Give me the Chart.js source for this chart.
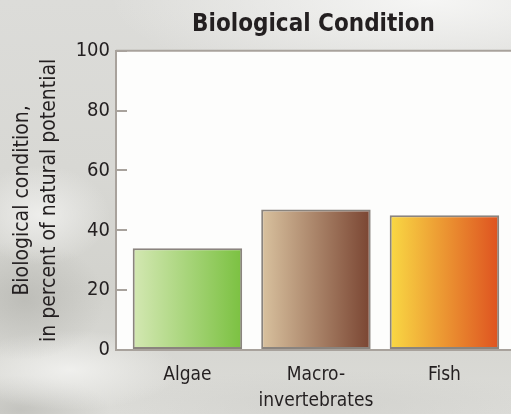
<!DOCTYPE html>
<html>
<head>
<meta charset="utf-8">
<script src="https://cdn.jsdelivr.net/npm/chart.js@4/dist/chart.umd.min.js"></script>
<style>
  html, body { margin: 0; padding: 0; }
  body {
    width: 511px;
    height: 414px;
    overflow: hidden;
    background:
      radial-gradient(ellipse 320px 90px at 430px 0px, rgba(247,247,246,0.95), rgba(247,247,246,0)),
      radial-gradient(ellipse 70px 50px at 40px 215px, rgba(240,240,238,0.9), rgba(240,240,238,0)),
      radial-gradient(ellipse 80px 60px at 25px 300px, rgba(175,175,170,0.6), rgba(175,175,170,0)),
      radial-gradient(ellipse 110px 40px at 70px 370px, rgba(245,245,243,0.8), rgba(245,245,243,0)),
      radial-gradient(ellipse 90px 35px at 20px 410px, rgba(180,180,175,0.6), rgba(180,180,175,0)),
      radial-gradient(ellipse 220px 35px at 330px 405px, rgba(205,205,201,0.6), rgba(205,205,201,0)),
      linear-gradient(180deg, #dcdcd9 0%, #d8d8d4 40%, #d2d2cd 70%, #dcdcd8 100%);
  }
  #wrap { position: relative; width: 511px; height: 414px; }
</style>
</head>
<body>
<div id="wrap"><canvas id="chart"></canvas></div>
<script>
  const categories = ['Algae', ['Macro-', 'invertebrates'], 'Fish'];
  const conditionValues = [34, 47, 45];
  const yTickValues = [0, 20, 40, 60, 80, 100];

  // left -> right colour ramps for each bar
  const barRamps = [
    ['#d4e8b3', '#7bc141'],
    ['#d9c29f', '#7a4532'],
    ['#f9d944', '#de5220'],
  ];

  const BAR_PCT = 0.852;
  const textFont = "'DejaVu Sans Condensed', 'DejaVu Sans', sans-serif";
  const ink = '#231f20';
  const frameGray = '#a8a29c';

  const barFill = (ctx) => {
    const chart = ctx.chart;
    const x = chart.scales.x;
    if (!chart.chartArea || !x) return barRamps[ctx.dataIndex][1];
    const center = x.getPixelForValue(ctx.dataIndex);
    const half = (x.getPixelForValue(1) - x.getPixelForValue(0)) * BAR_PCT / 2;
    const g = chart.ctx.createLinearGradient(center - half, 0, center + half, 0);
    g.addColorStop(0, barRamps[ctx.dataIndex][0]);
    g.addColorStop(1, barRamps[ctx.dataIndex][1]);
    return g;
  };

  // white plot panel with a rule along its top edge
  const plotFrame = {
    id: 'plotFrame',
    beforeDraw(chart) {
      const { ctx, chartArea: a } = chart;
      ctx.save();
      ctx.fillStyle = '#fdfdfc';
      ctx.fillRect(a.left, a.top, a.right - a.left, a.bottom - a.top);
      ctx.strokeStyle = frameGray;
      ctx.lineWidth = 2;
      ctx.beginPath();
      ctx.moveTo(a.left, a.top);
      ctx.lineTo(a.right, a.top);
      ctx.stroke();
      ctx.restore();
    }
  };

  new Chart(document.getElementById('chart'), {
    type: 'bar',
    data: {
      datasets: [{
        data: conditionValues.map((v, i) => ({ x: i, y: v })),
        backgroundColor: barFill,
        borderColor: '#8a847e',
        borderWidth: 2,
        borderSkipped: false,
        barPercentage: BAR_PCT,
        categoryPercentage: 1
      }]
    },
    options: {
      responsive: true,
      maintainAspectRatio: false,
      animation: false,
      events: [],
      layout: { padding: 0 },
      plugins: {
        legend: { display: false },
        tooltip: { enabled: false },
        title: {
          display: true,
          text: 'Biological Condition',
          fullSize: false,
          color: ink,
          font: { family: "'DejaVu Sans Condensed', sans-serif", size: 24, weight: 'bold', lineHeight: 1.2 },
          padding: { top: 10, bottom: 12 }
        }
      },
      scales: {
        x: {
          type: 'linear',
          offset: false,
          min: -0.556,
          max: 2.518,
          grid: { display: false, drawTicks: false, offset: false },
          border: { display: true, color: frameGray, width: 2 },
          afterFit: (s) => { s.height = 64; },
          ticks: {
            stepSize: 1,
            includeBounds: false,
            autoSkip: false,
            maxRotation: 0,
            padding: 12,
            color: ink,
            font: { family: textFont, size: 19, lineHeight: 1.37 },
            callback: (v) => categories[v]
          }
        },
        y: {
          min: 0,
          max: 100,
          afterBuildTicks: (s) => { s.ticks = yTickValues.map(v => ({ value: v })); },
          afterFit: (s) => { s.width = 116; },
          grid: { drawOnChartArea: false, drawTicks: true, tickLength: -11, color: frameGray, lineWidth: 2 },
          border: { display: true, color: frameGray, width: 2 },
          ticks: {
            padding: 17,
            color: ink,
            font: { family: textFont, size: 20 }
          },
          title: {
            display: true,
            text: ['Biological condition,', 'in percent of natural potential'],
            color: ink,
            font: { family: textFont, size: 21, lineHeight: 1.3 },
            padding: { top: 9, bottom: 0 }
          }
        }
      }
    },
    plugins: [plotFrame]
  });
</script>
</body>
</html>
